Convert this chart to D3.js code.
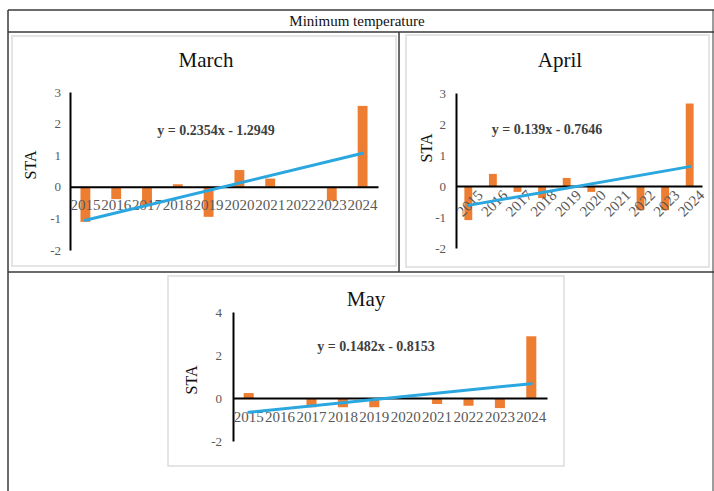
<!DOCTYPE html>
<html>
<head>
<meta charset="utf-8">
<script src="https://cdn.jsdelivr.net/npm/d3@7"></script>
<style>
  body { margin: 0; background: #fff; }
  svg { display: block; }
  text { font-family: "Liberation Serif", "Times New Roman", serif; }
</style>
</head>
<body>
<div id="chart"></div>
<script>
// data
var years = ["2015", "2016", "2017", "2018", "2019", "2020", "2021", "2022", "2023", "2024"];
var marchSTA = [-1.11, -0.39, -0.61, 0.08, -0.95, 0.53, 0.26, 0, -0.44, 2.56];
var aprilSTA = [-1.10, 0.39, -0.19, -0.39, 0.26, -0.19, 0, -0.78, -0.78, 2.66];
var maySTA   = [0.23, 0, -0.43, -0.43, -0.43, 0, -0.28, -0.36, -0.47, 2.87];
var marchTrend = [0.2354, -1.2949];
var aprilTrend = [0.139, -0.7646];
var mayTrend   = [0.1482, -0.8153];
var ticks5 = [-2, -1, 0, 1, 2, 3];
var ticks4 = [-2, 0, 2, 4];

var serif = "'Liberation Serif', 'Times New Roman', serif";

var svg = d3.select("#chart").append("svg")
            .attr("width", 714)
            .attr("height", 491);

// table frame
var lineCol = "#3a3a3a";
svg.append("line").attr("x1", 8).attr("y1", 10).attr("x2", 714).attr("y2", 10)
   .attr("stroke", lineCol).attr("stroke-width", 1.5);
svg.append("line").attr("x1", 8).attr("y1", 10).attr("x2", 8).attr("y2", 491)
   .attr("stroke", lineCol).attr("stroke-width", 1.5);
svg.append("line").attr("x1", 713).attr("y1", 10).attr("x2", 713).attr("y2", 491)
   .attr("stroke", lineCol).attr("stroke-width", 1);
svg.append("line").attr("x1", 8).attr("y1", 32).attr("x2", 714).attr("y2", 32)
   .attr("stroke", lineCol).attr("stroke-width", 1.5);
svg.append("line").attr("x1", 399).attr("y1", 32).attr("x2", 399).attr("y2", 272)
   .attr("stroke", lineCol).attr("stroke-width", 1.5);
svg.append("line").attr("x1", 8).attr("y1", 272).attr("x2", 714).attr("y2", 272)
   .attr("stroke", lineCol).attr("stroke-width", 1.5);

svg.append("text")
   .attr("x", 357).attr("y", 26)
   .attr("text-anchor", "middle")
   .style("font-family", serif)
   .style("font-size", "15px")
   .style("fill", "#111")
   .text("Minimum temperature");

function drawChart(o) {
    var g = svg.append("g");

    g.append("rect")
     .attr("x", o.box[0]).attr("y", o.box[1])
     .attr("width", o.box[2]).attr("height", o.box[3])
     .attr("fill", "#fff").attr("stroke", "#dcdcdc").attr("stroke-width", 1.5);

    g.append("text")
     .attr("x", o.titleX).attr("y", o.titleY)
     .attr("text-anchor", "middle")
     .style("font-family", serif)
     .style("font-size", "21px").style("fill", "#111")
     .text(o.title);

    var x = d3.scaleBand().domain(years).range(o.xRange);
    var y = d3.scaleLinear().domain([o.ticks[0], o.ticks[o.ticks.length - 1]]).range(o.yRange);
    var bw = x.bandwidth() * 0.32;

    // bars
    g.selectAll(".bar")
     .data(o.values)
     .enter()
     .append("rect")
     .attr("x", function (d, i) { return x(years[i]) + x.bandwidth() / 2 - bw / 2; })
     .attr("y", function (d) { return y(Math.max(0, d)); })
     .attr("width", bw)
     .attr("height", function (d) { return Math.abs(y(d) - y(0)); })
     .style("fill", "#ed7d31");

    // y axis
    var yAxis = g.append("g")
                 .attr("transform", "translate(" + o.xRange[0] + ",0)")
                 .call(d3.axisLeft(y).tickValues(o.ticks).tickSize(0).tickPadding(o.tickPad)
                         .tickFormat(function (d) { return String(d); }));
    yAxis.select(".domain").attr("stroke", "#000").attr("stroke-width", 2);
    yAxis.selectAll("text")
         .style("font-family", serif)
         .style("font-size", "13px").style("fill", "#595959");

    // zero line and year labels
    var xAxis = g.append("g")
                 .attr("transform", "translate(0," + y(0) + ")")
                 .call(d3.axisBottom(x).tickSize(0).tickPadding(o.rotate ? 7 : 13));
    xAxis.select(".domain").attr("stroke", "#000").attr("stroke-width", 2);
    var xt = xAxis.selectAll("text")
                  .style("font-family", serif)
                  .style("fill", "#595959");
    if (o.rotate) {
        xt.style("font-size", "15px")
          .attr("text-anchor", "end")
          .attr("dx", "0.25em")
          .attr("dy", "0.75em")
          .attr("transform", "rotate(-45)");
    } else {
        xt.style("font-size", "15px");
    }

    // trend line y = a*x + b over x = 1..10
    var first = 1, last = years.length;
    g.append("line")
     .attr("x1", x(years[0]) + x.bandwidth() / 2)
     .attr("y1", y(o.trend[0] * first + o.trend[1]))
     .attr("x2", x(years[last - 1]) + x.bandwidth() / 2)
     .attr("y2", y(o.trend[0] * last + o.trend[1]))
     .attr("stroke", "#2aa7df").attr("stroke-width", 3).attr("stroke-linecap", "round");

    g.append("text")
     .attr("x", o.eqX).attr("y", o.eqY)
     .attr("text-anchor", "middle")
     .style("font-family", serif)
     .style("font-size", "14px").style("font-weight", "bold").style("fill", "#404040")
     .text("y = " + o.trend[0] + "x - " + Math.abs(o.trend[1]));

    g.append("text")
     .attr("transform", "translate(" + o.staX + "," + o.staY + ") rotate(-90)")
     .attr("text-anchor", "middle")
     .style("font-family", serif)
     .style("font-size", "16px").style("fill", "#111")
     .text("STA");
}

drawChart({
    title: "March", values: marchSTA, trend: marchTrend, ticks: ticks5,
    box: [12, 36, 384, 230], titleX: 206, titleY: 67,
    xRange: [70, 378], yRange: [250, 92], tickPad: 9,
    eqX: 216, eqY: 135, staX: 36, staY: 165, rotate: false
});

drawChart({
    title: "April", values: aprilSTA, trend: aprilTrend, ticks: ticks5,
    box: [406, 35, 303, 232], titleX: 560, titleY: 67,
    xRange: [456, 702], yRange: [248, 93], tickPad: 10,
    eqX: 547, eqY: 134, staX: 432, staY: 148, rotate: true
});

drawChart({
    title: "May", values: maySTA, trend: mayTrend, ticks: ticks4,
    box: [168, 276, 396, 190], titleX: 366, titleY: 306,
    xRange: [233, 547], yRange: [441, 312], tickPad: 11,
    eqX: 376, eqY: 351, staX: 197, staY: 380, rotate: false
});
</script>
</body>
</html>
